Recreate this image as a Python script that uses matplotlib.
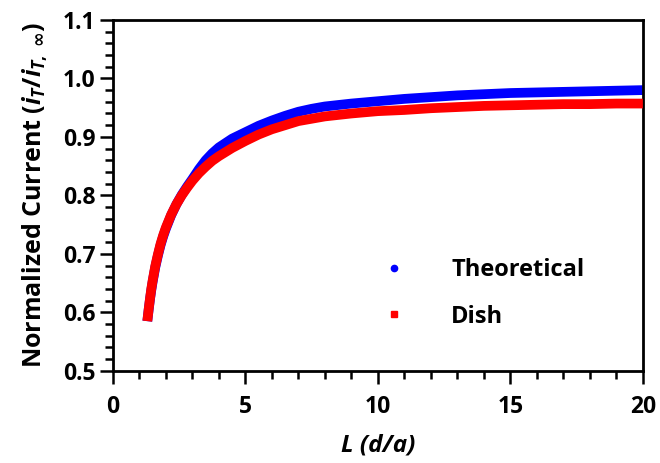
import matplotlib
matplotlib.use("Agg")
import matplotlib.pyplot as plt
from matplotlib.lines import Line2D
from matplotlib.ticker import MultipleLocator

plt.rcParams['font.family'] = ['Open Sans', 'DejaVu Sans']
plt.rcParams['mathtext.fontset'] = 'custom'
plt.rcParams['mathtext.it'] = 'Open Sans:bold:italic'
plt.rcParams['mathtext.rm'] = 'Open Sans:bold'
plt.rcParams['mathtext.bf'] = 'Open Sans:bold'
plt.rcParams['mathtext.sf'] = 'DejaVu Sans:bold'
plt.rcParams['mathtext.fallback'] = 'stixsans'

L_values = [1.3, 1.35, 1.4, 1.45, 1.5, 1.6, 1.7, 1.8, 1.9, 2.0, 2.2, 2.4, 2.6, 2.8,
            3.0, 3.25, 3.5, 3.75, 4.0, 4.5, 5.0, 5.5, 6.0, 6.5, 7.0, 7.5, 8.0, 9.0,
            10.0, 11.0, 12.0, 13.0, 14.0, 15.0, 16.0, 17.0, 18.0, 19.0, 20.0]
theoretical = [0.585, 0.604, 0.622, 0.638, 0.652, 0.677, 0.697, 0.715, 0.730, 0.743,
               0.766, 0.785, 0.801, 0.815, 0.828, 0.845, 0.860, 0.872, 0.882, 0.897,
               0.908, 0.919, 0.928, 0.936, 0.943, 0.948, 0.952, 0.957, 0.961, 0.965,
               0.968, 0.971, 0.973, 0.975, 0.976, 0.977, 0.978, 0.979, 0.980]
dish = [0.585, 0.605, 0.623, 0.640, 0.654, 0.679, 0.699, 0.717, 0.732, 0.745,
        0.767, 0.785, 0.800, 0.813, 0.825, 0.838, 0.849, 0.859, 0.867, 0.881,
        0.893, 0.904, 0.913, 0.920, 0.927, 0.931, 0.935, 0.940, 0.944, 0.946,
        0.949, 0.951, 0.953, 0.954, 0.955, 0.956, 0.956, 0.957, 0.957]
series_names = ["Theoretical", "Dish"]

fig = plt.figure(figsize=(6.6, 4.63), dpi=100)
ax = fig.add_axes([0.171, 0.199, 0.803, 0.758])

ax.plot(L_values, theoretical, color='#0000ff', lw=7, solid_capstyle='butt',
        solid_joinstyle='round', zorder=2)
ax.plot(L_values, dish, color='#ff0000', lw=7, solid_capstyle='butt',
        solid_joinstyle='round', zorder=3)

ax.set_xlim(0, 20)
ax.set_ylim(0.5, 1.1)
ax.xaxis.set_minor_locator(MultipleLocator(1))
ax.yaxis.set_minor_locator(MultipleLocator(0.02))
ax.set_xticks([0, 5, 10, 15, 20])
ax.set_xticklabels(['0', '5', '10', '15', '20'])
ax.set_yticks([0.5, 0.6, 0.7, 0.8, 0.9, 1.0, 1.1])
ax.set_yticklabels(['0.5', '0.6', '0.7', '0.8', '0.9', '1.0', '1.1'])

for s in ax.spines.values():
    s.set_linewidth(2.0)
ax.tick_params(which='major', direction='out', length=9.5, width=1.8, labelsize=16.5)
ax.tick_params(axis='x', which='major', pad=8)
ax.tick_params(axis='y', which='major', pad=3)
ax.tick_params(which='minor', direction='out', length=5.5, width=1.8)
for lab in ax.get_xticklabels() + ax.get_yticklabels():
    lab.set_fontweight('bold')

ax.set_xlabel('L (d/a)', fontsize=17.5, fontweight='bold', fontstyle='italic', labelpad=10)
ax.set_ylabel(r'Normalized Current ($i_T$/$i_{T,\ \mathsf{\infty}}$)', fontsize=18,
              fontweight='bold', labelpad=9)

handles = [Line2D([], [], ls='none', marker='o', ms=4.5, color='#0000ff'),
           Line2D([], [], ls='none', marker='s', ms=4.5, color='#ff0000')]
leg = ax.legend(handles, series_names, loc='lower right', bbox_to_anchor=(0.93, 0.06),
                frameon=False, prop={'weight': 'bold', 'size': 17},
                handletextpad=1.95, labelspacing=0.95, handlelength=1.0)

fig.savefig('out.png', dpi=100)
